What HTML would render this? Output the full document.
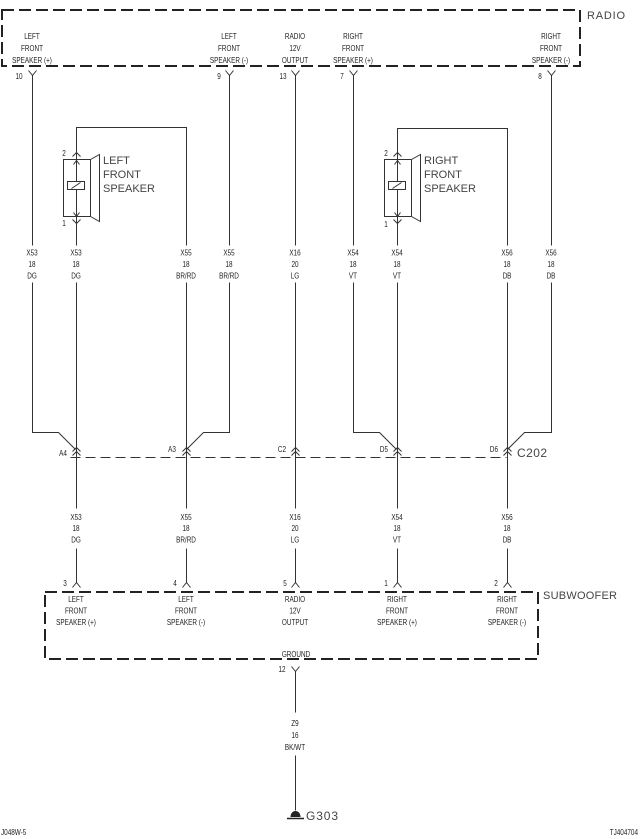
<!DOCTYPE html>
<html><head><meta charset="utf-8">
<style>
html,body{margin:0;padding:0;background:#fff;}
svg{display:block;}
.t{font-family:"Liberation Sans",sans-serif;font-size:8.5px;fill:#222;text-anchor:middle;}
.ts{font-family:"Liberation Sans",sans-serif;font-size:8.5px;fill:#222;}
.b{font-family:"Liberation Sans",sans-serif;font-size:11px;fill:#444;}
.w{fill:none;stroke:#333;stroke-width:1;}
.box{fill:none;stroke:#222;stroke-width:2;stroke-dasharray:12 5;}
</style></head>
<body>
<svg width="640" height="839" viewBox="0 0 640 839" xmlns="http://www.w3.org/2000/svg">
<rect width="640" height="839" fill="#fff"/>

<!-- RADIO box -->
<rect class="box" x="2" y="10" width="578" height="56"/>
<text class="b" x="587" y="19" textLength="38" lengthAdjust="spacing">RADIO</text>

<!-- SUBWOOFER box -->
<rect class="box" x="45" y="592" width="493" height="67"/>
<text class="b" x="543" y="599" textLength="74" lengthAdjust="spacing">SUBWOOFER</text>

<g transform="translate(0.5,0.5)">
<!-- wires -->
<path class="w" d="M32 75V245M32 282V432H58L75 449"/>
<path class="w" d="M229 75V245M229 282V432H203L186 449"/>
<path class="w" d="M295 75V245M295 282V508M295 548V582"/>
<path class="w" d="M353 75V245M353 282V432H379L396 449"/>
<path class="w" d="M551 75V245M551 282V432H524L507 449"/>
<path class="w" d="M76 245V127H186V245M76 282V508M76 548V582M186 282V508M186 548V582"/>
<path class="w" d="M397 245V128H507V245M397 282V508M397 548V582M507 282V508M507 548V582"/>

<!-- radio connectors -->
<path class="w" d="M28 70L32 75L36 70M225 70L229 75L233 70M291 70L295 75L299 70M349 70L353 75L357 70M547 70L551 75L555 70"/>
<!-- subwoofer connectors -->
<path class="w" d="M72 587L76 582L80 587M182 587L186 582L190 587M291 587L295 582L299 587M393 587L397 582L401 587M503 587L507 582L511 587"/>
<!-- ground connector -->
<path class="w" d="M291 666L295 671L299 666M295 671V712M295 755V810"/>

<!-- C202 -->
<path class="w" d="M72 451L76 447L80 451M72 455L76 451L80 455
M182 451L186 447L190 451M182 455L186 451L190 455
M291 451L295 447L299 451M291 455L295 451L299 455
M393 451L397 447L401 451M393 455L397 451L401 455
M503 451L507 447L511 451M503 455L507 451L511 455"/>
<path class="w" d="M70 457H506" stroke-dasharray="10 5"/>

<!-- Left speaker -->
<rect class="w" x="63" y="159" width="27" height="57"/>
<path class="w" d="M90 159L99 154V221L90 216"/>
<path class="w" d="M72 156L76 152L80 156M73 164L76 160L79 164M73 212L76 216L79 212M72 219L76 223L80 219"/>
<rect x="67" y="181" width="17" height="8" fill="#fff" stroke="#333" stroke-width="1"/>
<path class="w" d="M71 188L80 182"/>

<!-- Right speaker -->
<rect class="w" x="384" y="159" width="27" height="57"/>
<path class="w" d="M411 159L420 154V221L411 216"/>
<path class="w" d="M393 156L397 152L401 156M394 164L397 160L400 164M394 212L397 216L400 212M393 219L397 223L401 219"/>
<rect x="388" y="181" width="17" height="8" fill="#fff" stroke="#333" stroke-width="1"/>
<path class="w" d="M392 188L401 182"/>
</g>

<!-- Speaker labels -->
<text class="b" x="103" y="164">LEFT</text>
<text class="b" x="103" y="178">FRONT</text>
<text class="b" x="103" y="192">SPEAKER</text>
<text class="b" x="424" y="164">RIGHT</text>
<text class="b" x="424" y="178">FRONT</text>
<text class="b" x="424" y="192">SPEAKER</text>

<!-- C202 label -->
<text x="517" y="457" font-family="Liberation Sans, sans-serif" font-size="12" fill="#444" textLength="30" lengthAdjust="spacing">C202</text>

<!-- Ground symbol -->
<path d="M290 817C290 809 300 809 300 817Z" fill="#222" transform="translate(0.5,0)"/>
<path d="M287 818.5H304" stroke="#222" stroke-width="1.5"/>
<text x="306" y="820" font-family="Liberation Sans, sans-serif" font-size="12" fill="#444" textLength="32" lengthAdjust="spacing">G303</text>

<!-- Radio labels -->
<text class="t" transform="translate(32 39) scale(.75 1)">LEFT</text>
<text class="t" transform="translate(32 51) scale(.75 1)">FRONT</text>
<text class="t" transform="translate(32 63) scale(.75 1)">SPEAKER (+)</text>
<text class="t" transform="translate(229 39) scale(.75 1)">LEFT</text>
<text class="t" transform="translate(229 51) scale(.75 1)">FRONT</text>
<text class="t" transform="translate(229 63) scale(.75 1)">SPEAKER (-)</text>
<text class="t" transform="translate(295 39) scale(.75 1)">RADIO</text>
<text class="t" transform="translate(295 51) scale(.75 1)">12V</text>
<text class="t" transform="translate(295 63) scale(.75 1)">OUTPUT</text>
<text class="t" transform="translate(353 39) scale(.75 1)">RIGHT</text>
<text class="t" transform="translate(353 51) scale(.75 1)">FRONT</text>
<text class="t" transform="translate(353 63) scale(.75 1)">SPEAKER (+)</text>
<text class="t" transform="translate(551 39) scale(.75 1)">RIGHT</text>
<text class="t" transform="translate(551 51) scale(.75 1)">FRONT</text>
<text class="t" transform="translate(551 63) scale(.75 1)">SPEAKER (-)</text>

<!-- top pin numbers -->
<text class="t" transform="translate(19 79) scale(.75 1)">10</text>
<text class="t" transform="translate(219 79) scale(.75 1)">9</text>
<text class="t" transform="translate(283 79) scale(.75 1)">13</text>
<text class="t" transform="translate(342 79) scale(.75 1)">7</text>
<text class="t" transform="translate(540 79) scale(.75 1)">8</text>

<!-- speaker pin numbers -->
<text class="t" transform="translate(64 156) scale(.75 1)">2</text>
<text class="t" transform="translate(64 226) scale(.75 1)">1</text>
<text class="t" transform="translate(386 156) scale(.75 1)">2</text>
<text class="t" transform="translate(386 227) scale(.75 1)">1</text>

<!-- top wire labels -->
<g>
<text class="t" transform="translate(32 255.5) scale(.75 1)">X53</text>
<text class="t" transform="translate(32 267) scale(.75 1)">18</text>
<text class="t" transform="translate(32 278.5) scale(.75 1)">DG</text>
<text class="t" transform="translate(76 255.5) scale(.75 1)">X53</text>
<text class="t" transform="translate(76 267) scale(.75 1)">18</text>
<text class="t" transform="translate(76 278.5) scale(.75 1)">DG</text>
<text class="t" transform="translate(186 255.5) scale(.75 1)">X55</text>
<text class="t" transform="translate(186 267) scale(.75 1)">18</text>
<text class="t" transform="translate(186 278.5) scale(.75 1)">BR/RD</text>
<text class="t" transform="translate(229 255.5) scale(.75 1)">X55</text>
<text class="t" transform="translate(229 267) scale(.75 1)">18</text>
<text class="t" transform="translate(229 278.5) scale(.75 1)">BR/RD</text>
<text class="t" transform="translate(295 255.5) scale(.75 1)">X16</text>
<text class="t" transform="translate(295 267) scale(.75 1)">20</text>
<text class="t" transform="translate(295 278.5) scale(.75 1)">LG</text>
<text class="t" transform="translate(353 255.5) scale(.75 1)">X54</text>
<text class="t" transform="translate(353 267) scale(.75 1)">18</text>
<text class="t" transform="translate(353 278.5) scale(.75 1)">VT</text>
<text class="t" transform="translate(397 255.5) scale(.75 1)">X54</text>
<text class="t" transform="translate(397 267) scale(.75 1)">18</text>
<text class="t" transform="translate(397 278.5) scale(.75 1)">VT</text>
<text class="t" transform="translate(507 255.5) scale(.75 1)">X56</text>
<text class="t" transform="translate(507 267) scale(.75 1)">18</text>
<text class="t" transform="translate(507 278.5) scale(.75 1)">DB</text>
<text class="t" transform="translate(551 255.5) scale(.75 1)">X56</text>
<text class="t" transform="translate(551 267) scale(.75 1)">18</text>
<text class="t" transform="translate(551 278.5) scale(.75 1)">DB</text>
</g>

<!-- C202 cavity labels -->
<text class="t" transform="translate(63 456) scale(.75 1)">A4</text>
<text class="t" transform="translate(172 452) scale(.75 1)">A3</text>
<text class="t" transform="translate(282 452) scale(.75 1)">C2</text>
<text class="t" transform="translate(384 452) scale(.75 1)">D5</text>
<text class="t" transform="translate(494 452) scale(.75 1)">D6</text>

<!-- lower wire labels -->
<text class="t" transform="translate(76 520) scale(.75 1)">X53</text>
<text class="t" transform="translate(76 531) scale(.75 1)">18</text>
<text class="t" transform="translate(76 542.5) scale(.75 1)">DG</text>
<text class="t" transform="translate(186 520) scale(.75 1)">X55</text>
<text class="t" transform="translate(186 531) scale(.75 1)">18</text>
<text class="t" transform="translate(186 542.5) scale(.75 1)">BR/RD</text>
<text class="t" transform="translate(295 520) scale(.75 1)">X16</text>
<text class="t" transform="translate(295 531) scale(.75 1)">20</text>
<text class="t" transform="translate(295 542.5) scale(.75 1)">LG</text>
<text class="t" transform="translate(397 520) scale(.75 1)">X54</text>
<text class="t" transform="translate(397 531) scale(.75 1)">18</text>
<text class="t" transform="translate(397 542.5) scale(.75 1)">VT</text>
<text class="t" transform="translate(507 520) scale(.75 1)">X56</text>
<text class="t" transform="translate(507 531) scale(.75 1)">18</text>
<text class="t" transform="translate(507 542.5) scale(.75 1)">DB</text>

<!-- subwoofer pin numbers -->
<text class="t" transform="translate(65 586) scale(.75 1)">3</text>
<text class="t" transform="translate(175 586) scale(.75 1)">4</text>
<text class="t" transform="translate(285 586) scale(.75 1)">5</text>
<text class="t" transform="translate(386 586) scale(.75 1)">1</text>
<text class="t" transform="translate(496 586) scale(.75 1)">2</text>

<!-- subwoofer labels -->
<text class="t" transform="translate(76 602) scale(.75 1)">LEFT</text>
<text class="t" transform="translate(76 613.5) scale(.75 1)">FRONT</text>
<text class="t" transform="translate(76 625) scale(.75 1)">SPEAKER (+)</text>
<text class="t" transform="translate(186 602) scale(.75 1)">LEFT</text>
<text class="t" transform="translate(186 613.5) scale(.75 1)">FRONT</text>
<text class="t" transform="translate(186 625) scale(.75 1)">SPEAKER (-)</text>
<text class="t" transform="translate(295 602) scale(.75 1)">RADIO</text>
<text class="t" transform="translate(295 613.5) scale(.75 1)">12V</text>
<text class="t" transform="translate(295 625) scale(.75 1)">OUTPUT</text>
<text class="t" transform="translate(397 602) scale(.75 1)">RIGHT</text>
<text class="t" transform="translate(397 613.5) scale(.75 1)">FRONT</text>
<text class="t" transform="translate(397 625) scale(.75 1)">SPEAKER (+)</text>
<text class="t" transform="translate(507 602) scale(.75 1)">RIGHT</text>
<text class="t" transform="translate(507 613.5) scale(.75 1)">FRONT</text>
<text class="t" transform="translate(507 625) scale(.75 1)">SPEAKER (-)</text>
<text class="t" transform="translate(296 657) scale(.75 1)">GROUND</text>
<text class="t" transform="translate(282 672) scale(.75 1)">12</text>

<!-- ground wire labels -->
<text class="t" transform="translate(295 726) scale(.75 1)">Z9</text>
<text class="t" transform="translate(295 738) scale(.75 1)">16</text>
<text class="t" transform="translate(295 750) scale(.75 1)">BK/WT</text>

<!-- footer -->
<text class="ts" transform="translate(1 835) scale(.75 1)">J048W-5</text>
<text class="t" style="text-anchor:end" transform="translate(638 835) scale(.75 1)">TJ404704</text>
</svg>
</body></html>
